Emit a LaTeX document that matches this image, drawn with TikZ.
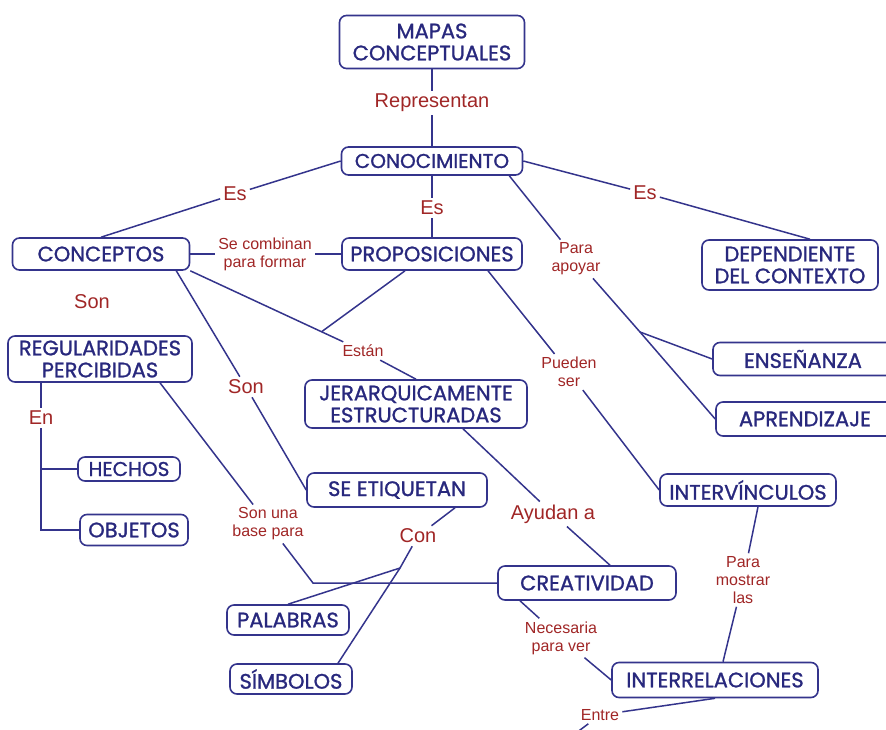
\documentclass[tikz,border=0pt]{standalone}
\usepackage{fontspec}
\setmainfont{Liberation Sans}
\newfontfamily\mapfont[FakeBold=1.2]{Poppins}
\usetikzlibrary{calc}
\definecolor{mapblue}{RGB}{52,52,140}
\definecolor{maptext}{RGB}{40,40,125}
\definecolor{mapred}{RGB}{160,38,38}

\begin{document}
\begin{tikzpicture}[x=1pt,y=-1pt,
		concept/.style={draw=mapblue,line width=1.6pt,rounded corners=7pt,text=maptext,
			font=\mapfont\fontsize{21}{22}\selectfont,align=center,inner sep=0pt},
		link/.style={text=mapred,font=\fontsize{20}{21}\selectfont,align=center,inner sep=3pt},
		small/.style={link,font=\fontsize{16}{18}\selectfont},
		conn/.style={draw=mapblue,line width=1.5pt}]
	\useasboundingbox (0,0) rectangle (886,729);
	\clip (0,0) rectangle (886,729);

	% concepts
	\node[concept,minimum width=185,minimum height=53] (mapas) at (432,42) {MAPAS\\CONCEPTUALES};
	\node[concept,minimum width=181,minimum height=28,font=\mapfont\fontsize{20}{21}\selectfont] (conoc) at (432,161) {CONOCIMIENTO};
	\node[concept,minimum width=177,minimum height=32] (concep) at (101,254) {CONCEPTOS};
	\node[concept,minimum width=180,minimum height=32] (propo) at (432,254) {PROPOSICIONES};
	\node[concept,minimum width=176,minimum height=50] (depend) at (790,265) {DEPENDIENTE\\DEL CONTEXTO};
	\node[concept,minimum width=184,minimum height=46] (regul) at (100,359) {REGULARIDADES\\PERCIBIDAS};
	\node[concept,minimum width=222,minimum height=48] (jerar) at (416,404) {JERARQUICAMENTE\\ESTRUCTURADAS};
	\node[concept,minimum width=180,minimum height=33] (ensen) at (803,359) {ENSEÑANZA};
	\node[concept,minimum width=178,minimum height=34] (aprend) at (805,419) {APRENDIZAJE};
	\node[concept,minimum width=102,minimum height=24,font=\mapfont\fontsize{20}{21}\selectfont] (hechos) at (129,469) {HECHOS};
	\node[concept,minimum width=108,minimum height=31] (objetos) at (134,530) {OBJETOS};
	\node[concept,minimum width=180,minimum height=34] (etiq) at (397,490) {SE ETIQUETAN};
	\node[concept,minimum width=176,minimum height=32] (interv) at (748,490) {INTERVÍNCULOS};
	\node[concept,minimum width=178,minimum height=34] (creat) at (587,583) {CREATIVIDAD};
	\node[concept,minimum width=122,minimum height=30] (palabras) at (288,620) {PALABRAS};
	\node[concept,minimum width=122,minimum height=30] (simbolos) at (291,679) {SÍMBOLOS};
	\node[concept,minimum width=206,minimum height=35] (interrel) at (715,680) {INTERRELACIONES};

	% linking words
	\node[link] (repr) at (432,103) {Representan};
	\node[link] (esL) at (235,194) {Es};
	\node[link] (esM) at (432,208) {Es};
	\node[link] (esR) at (645,193) {Es};
	\node[small] (comb) at (265,254) {Se combinan\\para formar};
	\node[small] (apoyar) at (576,259) {Para\\apoyar};
	\node[link] (sonL) at (92,302) {Son};
	\node[small] (estan) at (363,351) {Están};
	\node[link] (sonM) at (246,387) {Son};
	\node[small] (pueden) at (569,372) {Pueden\\ser};
	\node[link] (en) at (41,418) {En};
	\node[small] (base) at (268,524) {Son una\\base para};
	\node[link] (con) at (418,536) {Con};
	\node[link] (ayudan) at (553,514) {Ayudan a};
	\node[small] (mostrar) at (743,580) {Para\\mostrar\\las};
	\node[small] (neces) at (561,638) {Necesaria\\para ver};
	\node[small] (entre) at (600,715) {Entre};

	% junctions
	\coordinate (jApoyo) at (640,332);
	\coordinate (jEst) at ($(concep.south east)!0.76!(estan)$);
	\coordinate (jBase) at (313,583);
	\coordinate (jCon) at (400,568);
	\coordinate (entreEnd) at (560,745);

	% connectors
	\draw[conn] (mapas) -- (repr) -- (conoc);
	\draw[conn] (conoc.west) -- (esL) -- (concep.north);
	\draw[conn] (conoc) -- (esM) -- (propo);
	\draw[conn] (conoc.east) -- (esR) -- ([xshift=20]depend.north);
	\draw[conn] ([xshift=-14]conoc.south east) -- (apoyar) -- (jApoyo) -- (aprend.west);
	\draw[conn] (jApoyo) -- (ensen.west);
	\draw[conn] (concep) -- (comb) -- (propo);
	\draw[conn] ([xshift=-14]concep.south east) -- (sonM) -- (etiq.west);
	\draw[conn] (concep.south east) -- (estan) -- (jerar.north);
	\draw[conn] ([xshift=-27]propo.south) -- (jEst);
	\draw[conn] ([xshift=56]propo.south) -- (pueden) -- (interv.west);
	\draw[conn] (regul.south -| en) -- (en) -- (en |- objetos) -- (objetos);
	\draw[conn] (en |- hechos) -- (hechos);
	\draw[conn] ([xshift=60]regul.south) -- (base) -- (jBase) -- (creat);
	\draw[conn] ([xshift=58]etiq.south) -- (con) -- (jCon) -- (palabras.north);
	\draw[conn] (jCon) -- ([xshift=47]simbolos.north);
	\draw[conn] ([xshift=47]jerar.south) -- (ayudan) -- ([xshift=23]creat.north);
	\draw[conn] ([xshift=-67]creat.south) -- (neces) -- (interrel.west);
	\draw[conn] ([xshift=10]interv.south) -- (mostrar) -- ([xshift=8]interrel.north);
	\draw[conn] (interrel.south) -- (entre) -- (entreEnd);
\end{tikzpicture}
\end{document}
